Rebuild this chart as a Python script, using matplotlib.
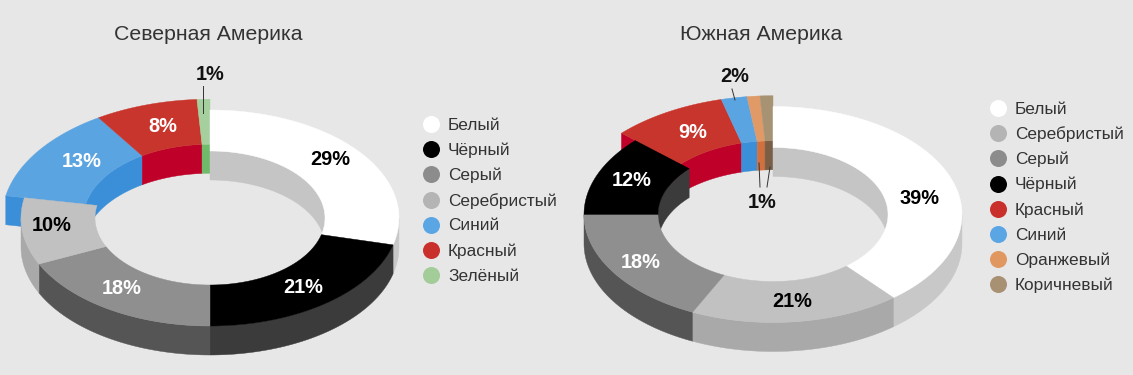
import numpy as np
import matplotlib
matplotlib.use('Agg')
import matplotlib.pyplot as plt
from matplotlib.patches import Polygon

plt.rcParams['font.family'] = ['Liberation Sans', 'DejaVu Sans']

# Северная Америка
na_names = ['Белый', 'Чёрный', 'Серый', 'Серебристый', 'Синий', 'Красный', 'Зелёный']
na_values = [29, 21, 18, 10, 13, 8, 1]
na_labels = ['29%', '21%', '18%', '10%', '13%', '8%', '']
na_raised = [False, False, False, False, True, True, True]

# Южная Америка: серебристый сектор нарисован на 18%, хотя подписан 21%
sa_names = ['Белый', 'Серебристый', 'Серый', 'Чёрный', 'Красный', 'Синий', 'Оранжевый', 'Коричневый']
sa_values = [39, 18, 18, 12, 9, 2, 1, 1]
sa_labels = ['39%', '21%', '18%', '12%', '9%', '', '', '']
sa_raised = [False, False, False, False, True, True, True, True]

# цвета: верхняя грань, наружная стенка, внутренняя стенка
top_colors = {'Белый': '#ffffff', 'Чёрный': '#000000', 'Серый': '#8f8f8f', 'Серебристый': '#c1c1c1',
              'Синий': '#5ba4e2', 'Красный': '#c8352c', 'Зелёный': '#a5cf9c',
              'Оранжевый': '#e09a68', 'Коричневый': '#a89274'}
outer_colors = {'Белый': '#c8c8c8', 'Чёрный': '#3b3b3b', 'Серый': '#555555', 'Серебристый': '#a9a9a9'}
inner_colors = {'Белый': '#c5c5c5', 'Чёрный': '#3b3b3b',
                'Синий': '#3a8fd8', 'Красный': '#bf0028', 'Зелёный': '#6fbb6a',
                'Оранжевый': '#d2703f', 'Коричневый': '#7a5f46'}
legend_colors = {'Белый': '#ffffff', 'Чёрный': '#000000', 'Серый': '#8c8c8c', 'Серебристый': '#b4b4b4',
                 'Синий': '#5aa5e3', 'Красный': '#c9302b', 'Зелёный': '#a2cc98',
                 'Оранжевый': '#e09860', 'Коричневый': '#a89073'}

BG = '#e7e7e7'
A_OUT, B_OUT = 189, 108
A_IN, B_IN = 115, 67
DEPTH = 29
RAISE = 1.1
PX = 0.72  # пиксели в пункты при dpi=100


def arc(cx, cy, a, b, t0, t1):
    t = np.radians(np.linspace(t0, t1, max(int(abs(t1 - t0)) * 2, 2)))
    return np.column_stack([cx + a * np.sin(t), cy - b * np.cos(t)])


def add_band(ax, cx, cy, a, b, t0, t1, color, z):
    # стенка: дуга и та же дуга, сдвинутая вниз
    if t1 <= t0:
        return
    upper = arc(cx, cy, a, b, t0, t1)
    lower = upper[::-1] + [0, DEPTH]
    ax.add_patch(Polygon(np.vstack([upper, lower]), fc=color, ec=color, lw=0.3, zorder=z))


def draw_ring(ax, cx, cy, names, values, labels, raised, nudges):
    edges = np.cumsum([0] + values) / sum(values) * 360
    first_raised = raised.index(True)
    for i, name in enumerate(names):
        t0, t1 = edges[i], edges[i + 1]
        k = RAISE if raised[i] else 1
        ao, bo, ai, bi = A_OUT * k, B_OUT * k, A_IN * k, B_IN * k
        # поднятые секторы лежат под обычными
        wall_z = 1 if raised[i] else 1.5
        top_z = 3 if raised[i] else 4

        # внутренняя стенка видна только в задней половине
        if name in inner_colors:
            add_band(ax, cx, cy, ai, bi, t0, min(t1, 90), inner_colors[name], wall_z)
            add_band(ax, cx, cy, ai, bi, max(t0, 270), t1, inner_colors[name], wall_z)
        # наружная стенка видна только спереди
        if name in outer_colors:
            add_band(ax, cx, cy, ao, bo, max(t0, 90), min(t1, 270), outer_colors[name], 2)
        # торец первого поднятого сектора
        if i == first_raised:
            s = np.sin(np.radians(t0))
            c = np.cos(np.radians(t0))
            p_out = [cx + ao * s, cy - bo * c]
            p_in = [cx + ai * s, cy - bi * c]
            ax.add_patch(Polygon([p_out, p_in, [p_in[0], p_in[1] + DEPTH], [p_out[0], p_out[1] + DEPTH]],
                                 fc=inner_colors[name], ec=inner_colors[name], lw=0.3, zorder=1))
        # верхняя грань
        face = np.vstack([arc(cx, cy, ao, bo, t0, t1), arc(cx, cy, ai, bi, t1, t0)])
        ax.add_patch(Polygon(face, fc=top_colors[name], ec=top_colors[name], lw=0.3, zorder=top_z))

        if labels[i]:
            mid = np.radians((t0 + t1) / 2)
            dx, dy = nudges.get(name, (0, 0))
            x = cx + (ao + ai) / 2 * np.sin(mid) + dx
            y = cy - (bo + bi) / 2 * np.cos(mid) + dy
            col = '#000000' if name in ('Белый', 'Серебристый') else '#ffffff'
            ax.text(x, y, labels[i], color=col, fontsize=20 * PX, fontweight='bold',
                    ha='center', va='center', zorder=5)


def draw_legend(ax, names, x, y0):
    for i, name in enumerate(names):
        y = y0 + i * 25.2
        ax.scatter([x], [y], s=(17 * PX) ** 2, color=legend_colors[name], linewidths=0, zorder=4)
        ax.text(x + 17, y + 1, name, fontsize=17.2 * PX, color='#333333', ha='left', va='center', zorder=4)


fig = plt.figure(figsize=(11.33, 3.75), dpi=100, facecolor=BG)
ax = fig.add_axes([0, 0, 1, 1])
ax.set_xlim(0, 1133)
ax.set_ylim(375, 0)
ax.axis('off')

draw_ring(ax, 210, 218, na_names, na_values, na_labels, na_raised,
          {'Белый': (0, -5), 'Серый': (-7, -3), 'Серебристый': (-8, -3), 'Синий': (10, -2), 'Красный': (4, 0)})
draw_ring(ax, 773, 214.5, sa_names, sa_values, sa_labels, sa_raised,
          {'Белый': (4, 14), 'Серый': (-4, 1), 'Чёрный': (0, -2), 'Красный': (5, 1)})

ax.text(208, 35, 'Северная Америка', fontsize=21.3 * PX, color='#333333', ha='center', va='center')
ax.text(761, 35, 'Южная Америка', fontsize=21.3 * PX, color='#333333', ha='center', va='center')

draw_legend(ax, na_names, 431, 124)
draw_legend(ax, sa_names, 998, 108)

# подписи маленьких секторов с выносками
ax.text(210, 74, '1%', fontsize=20 * PX, fontweight='bold', color='#111111', ha='center', va='center', zorder=5)
ax.text(735, 76, '2%', fontsize=20 * PX, fontweight='bold', color='#111111', ha='center', va='center', zorder=5)
ax.text(762, 202, '1%', fontsize=20 * PX, fontweight='bold', color='#111111', ha='center', va='center', zorder=5)
ax.plot([203, 203], [86, 113], color='#333333', lw=0.7, zorder=5)
ax.plot([732, 735], [89, 100], color='#333333', lw=0.7, zorder=5)
ax.plot([759, 760], [163, 187], color='#333333', lw=0.7, zorder=5)
ax.plot([770, 767], [167, 187], color='#333333', lw=0.7, zorder=5)

fig.savefig('out.png', dpi=100, facecolor=BG)
